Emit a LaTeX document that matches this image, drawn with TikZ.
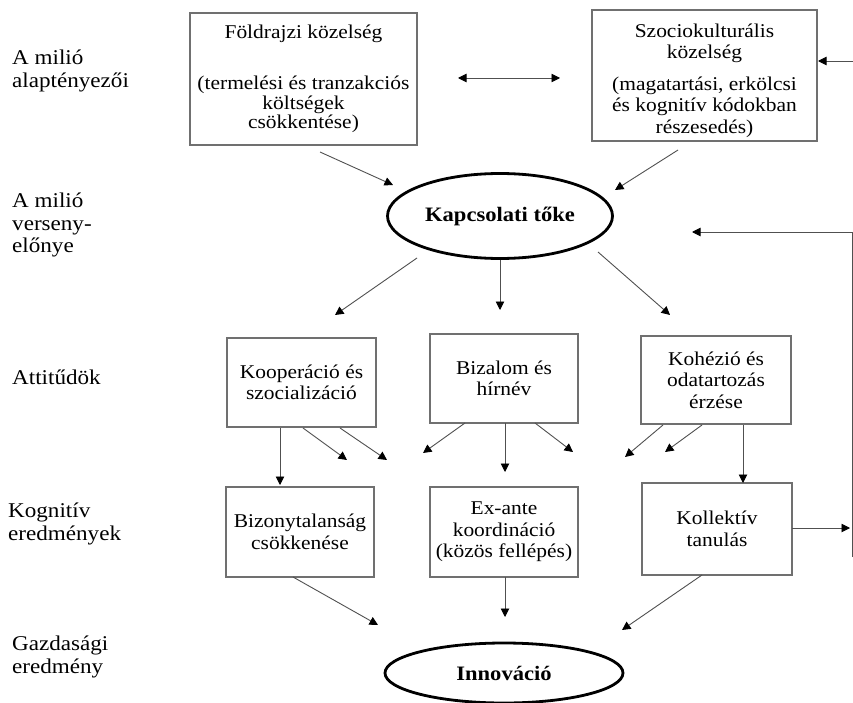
\documentclass[tikz,border=0pt]{standalone}
\usepackage{fontspec}
\setmainfont{Liberation Serif}[FakeStretch=1.1]
\usetikzlibrary{arrows.meta,shapes.geometric,calc}
\definecolor{boxgray}{HTML}{707070}
\definecolor{linegray}{HTML}{505050}
\tikzset{
  box/.style={draw=boxgray, line width=1.2pt, rectangle, align=center, inner sep=0pt,
    font=\fontsize{19.5}{21.5}\selectfont},
  oval/.style={draw=black, line width=2.8pt, ellipse, inner sep=0pt,
    font=\fontsize{20.5}{22}\selectfont\bfseries},
  lab/.style={anchor=west, align=left, inner sep=0pt, font=\fontsize{21}{22.5}\selectfont},
  conn/.style={draw=linegray, line width=0.9pt, -{Triangle[length=8.5pt,width=8.5pt,black]}},
  dconn/.style={draw=linegray, line width=0.9pt, {Triangle[length=8.5pt,width=8.5pt,black]}-{Triangle[length=8.5pt,width=8.5pt,black]}},
  plain/.style={draw=linegray, line width=0.9pt}
}
\begin{document}
\begin{tikzpicture}[x=1pt,y=-1pt]
\useasboundingbox (0,0) rectangle (853,703);
% left labels
\node[lab] (l1) at (12,71) {A milió\\alaptényezői};
\node[lab] (l2) at (12,225) {A milió\\verseny-\\előnye};
\node[lab] (l3) at (12,377) {Attitűdök};
\node[lab] (l4) at (8,524) {Kognitív\\eredmények};
\node[lab] (l5) at (12,657) {Gazdasági\\eredmény};
% boxes
\node[box, font=\fontsize{19.5}{19.5}\selectfont, minimum width=227, minimum height=132] (foldr) at (303.5,79)
  {Földrajzi közelség\\[31.5pt](termelési és tranzakciós\\költségek\\csökkentése)};
\node[box, minimum width=225, minimum height=131] (szoc) at (704.5,75.5)
  {\rule{0pt}{23.5pt}Szociokulturális\\közelség\\[10pt](magatartási, erkölcsi\\és kognitív kódokban\\részesedés)};
\node[oval, minimum width=225, minimum height=85] (kapcs) at (500,216) {Kapcsolati tőke};
\node[box, minimum width=149, minimum height=89] (koop) at (301.5,382.5) {Kooperáció és\\szocializáció};
\node[box, minimum width=148, minimum height=89] (biz) at (504,378.5) {Bizalom és\\hírnév};
\node[box, minimum width=150, minimum height=88] (koh) at (716,380) {Kohézió és\\odatartozás\\érzése};
\node[box, minimum width=148, minimum height=90] (bizony) at (300,532) {Bizonytalanság\\csökkenése};
\node[box, minimum width=148, minimum height=90] (exante) at (504,532) {Ex-ante\\koordináció\\(közös fellépés)};
\node[box, minimum width=150, minimum height=92] (koll) at (717,529) {Kollektív\\tanulás};
\node[oval, minimum width=238, minimum height=60] (innov) at (504,673) {Innováció};
% free ends
\coordinate (a1s) at (320,152);  \coordinate (a1e) at (393,185);
\coordinate (a2s) at (678,150);  \coordinate (a2e) at (615,190);
\coordinate (a3s) at (458,78);   \coordinate (a3e) at (560,78);
\coordinate (a4s) at (853,61);   \coordinate (a4e) at (818,61);
\coordinate (fbtop) at (852,232); \coordinate (fbend) at (692,232);
\coordinate (fbbot) at (852,557);
\coordinate (a7s) at (792,528);  \coordinate (a7e) at (850,528);
\coordinate (a8s) at (417,258);  \coordinate (a8e) at (335,315);
\coordinate (a9s) at (500,260);  \coordinate (a9e) at (500,310);
\coordinate (a10s) at (598,252); \coordinate (a10e) at (670,315);
\coordinate (a11s) at (280,428); \coordinate (a11e) at (280,485);
\coordinate (a12s) at (303,428); \coordinate (a12e) at (347,460);
\coordinate (a13s) at (340,428); \coordinate (a13e) at (387,460);
\coordinate (a14s) at (465,423); \coordinate (a14e) at (423,453);
\coordinate (a15s) at (505,423); \coordinate (a15e) at (505,472);
\coordinate (a16s) at (535,423); \coordinate (a16e) at (573,452);
\coordinate (a17s) at (663,425); \coordinate (a17e) at (625,457);
\coordinate (a18s) at (702,425); \coordinate (a18e) at (665,452);
\coordinate (a19s) at (743,425); \coordinate (a19e) at (743,483);
\coordinate (a20s) at (293,577); \coordinate (a20e) at (378,625);
\coordinate (a21s) at (505,577); \coordinate (a21e) at (505,617);
\coordinate (a22s) at (702,575); \coordinate (a22e) at (622,630);
% connectors
\draw[conn] (a1s) -- (a1e);
\draw[conn] (a2s) -- (a2e);
\draw[dconn] (a3s) -- (a3e);
\draw[conn] (a4s) -- (a4e);
\draw[plain] (fbbot) -- (fbtop);
\draw[conn] (fbtop) -- (fbend);
\draw[conn] (a7s) -- (a7e);
\draw[conn] (a8s) -- (a8e);
\draw[conn] (a9s) -- (a9e);
\draw[conn] (a10s) -- (a10e);
\draw[conn] (a11s) -- (a11e);
\draw[conn] (a12s) -- (a12e);
\draw[conn] (a13s) -- (a13e);
\draw[conn] (a14s) -- (a14e);
\draw[conn] (a15s) -- (a15e);
\draw[conn] (a16s) -- (a16e);
\draw[conn] (a17s) -- (a17e);
\draw[conn] (a18s) -- (a18e);
\draw[conn] (a19s) -- (a19e);
\draw[conn] (a20s) -- (a20e);
\draw[conn] (a21s) -- (a21e);
\draw[conn] (a22s) -- (a22e);
\end{tikzpicture}
\end{document}
